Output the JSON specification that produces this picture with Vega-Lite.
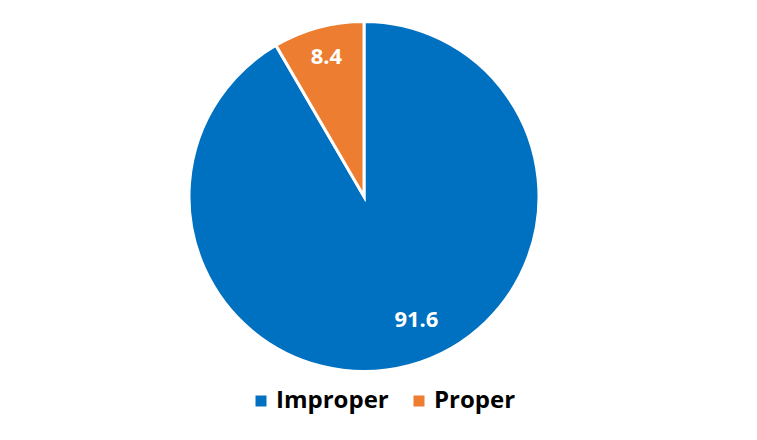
{
  "$schema": "https://vega.github.io/schema/vega-lite/v6.json",
  "width": 728,
  "height": 393,
  "autosize": {"type": "none"},
  "padding": {"left": 0, "top": 0, "right": 29, "bottom": 47},
  "background": "white",
  "config": {"view": {"stroke": null}},
  "data": {
    "values": [
      {"category": "Improper", "value": 91.6, "order": 1},
      {"category": "Proper", "value": 8.4, "order": 2}
    ]
  },
  "encoding": {
    "theta": {"field": "value", "type": "quantitative", "stack": true},
    "order": {"field": "order", "type": "quantitative"}
  },
  "layer": [
    {
      "mark": {"type": "arc", "outerRadius": 175, "stroke": "white", "strokeWidth": 3},
      "encoding": {
        "color": {
          "field": "category",
          "type": "nominal",
          "scale": {"domain": ["Improper", "Proper"], "range": ["#0070C0", "#ED7D31"]},
          "legend": {
            "title": null,
            "orient": "none",
            "direction": "horizontal",
            "legendX": 249,
            "legendY": 389,
            "symbolType": "square",
            "symbolSize": 121,
            "symbolStrokeWidth": 0,
            "labelFont": "Open Sans",
            "labelFontWeight": "bold",
            "labelFontSize": 24,
            "labelColor": "#000000",
            "labelOffset": 3,
            "columnPadding": 18,
            "labelLimit": 300
          }
        }
      }
    },
    {
      "mark": {"type": "text", "radius": 128, "dx": 19, "font": "Open Sans", "fontWeight": "bold", "fontSize": 22, "fill": "white", "baseline": "middle", "align": "center"},
      "encoding": {
        "text": {"condition": {"test": "datum.category === 'Improper'", "field": "value", "type": "quantitative", "format": ".1f"}, "value": ""}
      }
    },
    {
      "mark": {"type": "text", "radius": 144, "font": "Open Sans", "fontWeight": "bold", "fontSize": 22, "fill": "white", "baseline": "middle", "align": "center"},
      "encoding": {
        "text": {"condition": {"test": "datum.category === 'Proper'", "field": "value", "type": "quantitative", "format": ".1f"}, "value": ""}
      }
    }
  ]
}
